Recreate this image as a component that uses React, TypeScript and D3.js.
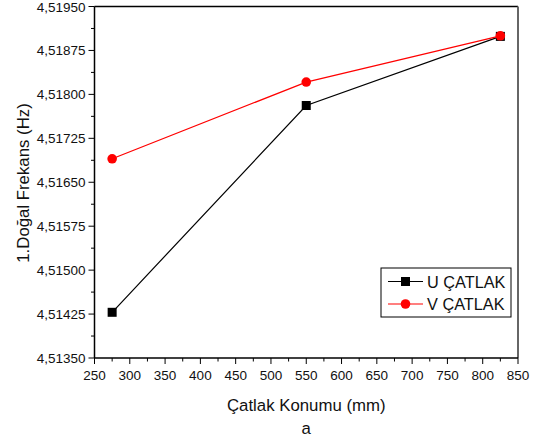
import React from "react";
import * as d3 from "d3";

const positions = [275, 550, 825];
const uValues = [4.51428, 4.51781, 4.51899];
const vValues = [4.5169, 4.51821, 4.519];
const xTicks = [250, 300, 350, 400, 450, 500, 550, 600, 650, 700, 750, 800, 850];
const yTicks = [4.5135, 4.51425, 4.515, 4.51575, 4.5165, 4.51725, 4.518, 4.51875, 4.5195];
const seriesNames = ["U ÇATLAK", "V ÇATLAK"];

const W = 544, H = 441;
const L = 94.5, R = 518, T = 6.5, B = 358;
const FONT = "Liberation Sans, Arial, sans-serif";

export default function App() {
  const x = d3.scaleLinear().domain([250, 850]).range([L, R]);
  const y = d3.scaleLinear().domain([4.5135, 4.5195]).range([B, T]);
  const line = d3.line<number>().x((_, i) => x(positions[i])).y((d) => y(d));
  const fmt = (v: number) => v.toFixed(5).replace(".", ",");
  const xMinor = xTicks.slice(0, -1).map((t) => t + 25);
  const yMinor = yTicks.slice(0, -1).map((t) => t + 0.000375);

  return (
    <svg width={W} height={H} style={{ position: "absolute", left: 0, top: 0, background: "#fff" }} fontFamily={FONT}>
      {/* frame */}
      <line x1={L} x2={R} y1={T} y2={T} stroke="#000" strokeWidth={1.5} />
      <line x1={R} x2={R} y1={T} y2={B} stroke="#666" strokeWidth={2} />
      <line x1={L} x2={L} y1={T} y2={B} stroke="#000" strokeWidth={1.5} />
      <line x1={L} x2={R} y1={B} y2={B} stroke="#000" strokeWidth={1.5} />

      {/* x ticks */}
      {xTicks.map((t) => (
        <g key={"x" + t}>
          <line x1={x(t)} x2={x(t)} y1={B} y2={B + 6} stroke="#000" strokeWidth={1} />
          <text x={x(t)} y={B + 22} fontSize={13.5} textAnchor="middle" fill="#111">{t}</text>
        </g>
      ))}
      {xMinor.map((t) => (
        <line key={"xm" + t} x1={x(t)} x2={x(t)} y1={B} y2={B + 3.5} stroke="#000" strokeWidth={1} />
      ))}

      {/* y ticks */}
      {yTicks.map((t) => (
        <g key={"y" + t}>
          <line x1={L - 6} x2={L} y1={y(t)} y2={y(t)} stroke="#000" strokeWidth={1} />
          <text x={L - 9} y={y(t) + 5} fontSize={13.5} textAnchor="end" fill="#111">{fmt(t)}</text>
        </g>
      ))}
      {yMinor.map((t) => (
        <line key={"ym" + t} x1={L - 3.5} x2={L} y1={y(t)} y2={y(t)} stroke="#000" strokeWidth={1} />
      ))}

      {/* axis titles */}
      <text x={(L + R) / 2} y={411} fontSize={16.8} textAnchor="middle" fill="#111">Çatlak Konumu (mm)</text>
      <text x={(L + R) / 2} y={434} fontSize={16.8} textAnchor="middle" fill="#111">a</text>
      <text transform={`translate(29,183) rotate(-90)`} fontSize={16.8} textAnchor="middle" fill="#111">1.Doğal Frekans (Hz)</text>

      {/* series */}
      <path d={line(uValues) || ""} fill="none" stroke="#000" strokeWidth={1.2} />
      {uValues.map((v, i) => (
        <rect key={"u" + i} x={x(positions[i]) - 4.5} y={y(v) - 4.5} width={9} height={9} fill="#000" />
      ))}
      <path d={line(vValues) || ""} fill="none" stroke="#ff0000" strokeWidth={1.2} />
      {vValues.map((v, i) => (
        <circle key={"v" + i} cx={x(positions[i])} cy={y(v)} r={4.8} fill="#ff0000" />
      ))}

      {/* legend */}
      <rect x={381} y={268} width={130} height={49} fill="#fff" stroke="#000" strokeWidth={1} />
      <line x1={388} x2={423} y1={281.5} y2={281.5} stroke="#000" strokeWidth={1.2} />
      <rect x={401} y={277} width={9} height={9} fill="#000" />
      <text x={427} y={287.5} fontSize={16.3} fill="#111">{seriesNames[0]}</text>
      <line x1={388} x2={423} y1={304} y2={304} stroke="#ff0000" strokeWidth={1.2} />
      <circle cx={405.5} cy={304} r={4.8} fill="#ff0000" />
      <text x={427} y={310} fontSize={16.3} fill="#111">{seriesNames[1]}</text>
    </svg>
  );
}
